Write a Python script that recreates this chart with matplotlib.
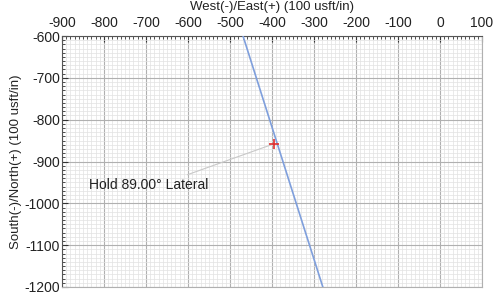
import matplotlib.pyplot as plt
from matplotlib.ticker import MultipleLocator

plt.rcParams['font.family'] = ['Liberation Sans', 'DejaVu Sans']
plt.rcParams['axes.unicode_minus'] = False

# well path (plan view), usft
east = [-469, -279]
north = [-600, -1200]
# lateral hold point
hold_e = [-396]
hold_n = [-858]
hold_label = "Hold 89.00° Lateral"

fig = plt.figure(figsize=(4.99, 2.92), dpi=100)
ax = fig.add_axes([62 / 499, 1 - 287 / 292, 420 / 499, 251 / 292])

ax.plot(east, north, color='#7f9fdc', lw=1.2, zorder=3)
ax.plot(hold_e, hold_n, marker='+', color='#e03030', ms=7, mew=1.2, zorder=4)
ax.annotate(hold_label, xy=(hold_e[0], hold_n[0]), xytext=(-836, -955),
            fontsize=10, va='center', ha='left', color='#222222',
            arrowprops=dict(arrowstyle='-', color='#c8c8c8', lw=0.8,
                            shrinkA=0, shrinkB=2, relpos=(0.76, 1.0)))

ax.set_xlim(-900, 100)
ax.set_ylim(-1200, -600)
ax.xaxis.set_major_locator(MultipleLocator(100))
ax.yaxis.set_major_locator(MultipleLocator(100))
ax.xaxis.set_minor_locator(MultipleLocator(10))
ax.yaxis.set_minor_locator(MultipleLocator(10))
ax.grid(which='major', color='#b0b0b0', lw=0.8)
ax.grid(which='minor', color='#e2e2e2', lw=0.5)
ax.set_axisbelow(True)

ax.xaxis.tick_top()
ax.tick_params(which='both', direction='in', labelsize=10, colors='#333333',
               labelcolor='#222222')
ax.tick_params(axis='x', pad=4)
ax.tick_params(axis='y', pad=1.5)
ax.tick_params(which='major', length=4)
ax.tick_params(which='minor', length=2)
fig.text(272 / 499, 1 - 7 / 292, 'West(-)/East(+) (100 usft/in)', fontsize=9.5,
         ha='center', va='center', color='#222222')
ax.set_ylabel('South(-)/North(+) (100 usft/in)', fontsize=9.5, labelpad=2, color='#222222')

for s in ['top', 'left']:
    ax.spines[s].set_color('#555555')
for s in ['bottom', 'right']:
    ax.spines[s].set_color('#b0b0b0')

fig.savefig('out.png', dpi=100)
